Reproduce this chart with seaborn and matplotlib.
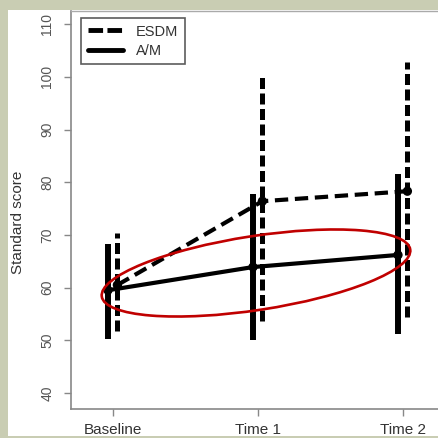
import numpy as np
import pandas as pd
import matplotlib
matplotlib.use("Agg")
import matplotlib.pyplot as plt
from matplotlib.lines import Line2D
from matplotlib.patches import Ellipse, Rectangle
import seaborn as sns

# Data
times = ["Baseline", "Time 1", "Time 2"]
groups = ["ESDM", "A/M"]
esdm_mean = [60.5, 76.4, 78.3]
esdm_lo = [51.8, 53.6, 54.4]
esdm_hi = [70.3, 100.0, 102.8]
am_mean = [59.5, 63.9, 66.2]
am_lo = [50.2, 50.0, 51.2]
am_hi = [68.2, 77.8, 81.5]

rows = []
for i, t in enumerate(times):
    rows.append(dict(group="ESDM", time=t, idx=i, mean=esdm_mean[i], lo=esdm_lo[i], hi=esdm_hi[i]))
    rows.append(dict(group="A/M", time=t, idx=i, mean=am_mean[i], lo=am_lo[i], hi=am_hi[i]))
df = pd.DataFrame(rows)

# Styling
sns.set_theme(style="white")
plt.rcParams['font.family'] = ['Liberation Sans', 'DejaVu Sans']

W, H = 439, 438
fig = plt.figure(figsize=(W / 100, H / 100), dpi=100)
fig.patch.set_facecolor("#c9cdb3")
fig.patches.append(Rectangle((8 / W, 2 / H), 431 / W, 426 / H, transform=fig.transFigure,
                             facecolor="white", edgecolor="none", zorder=-5))

ax = fig.add_axes([71 / W, (H - 409) / H, (W - 71) / W, (409 - 11) / H])
ax.set_zorder(1)
ax.set_facecolor("white")

dodge = {"ESDM": 0.03, "A/M": -0.035}
df["x"] = df["idx"] + df["group"].map(dodge)
dash_map = {"ESDM": (3.2, 1.6), "A/M": ""}

sns.lineplot(data=df, x="x", y="mean", style="group", dashes=dash_map,
             color="black", linewidth=3, legend=False, ax=ax, sort=True)
sns.scatterplot(data=df, x="x", y="mean", color="black", s=45, ax=ax,
                legend=False, zorder=5, edgecolor="none")

for g, sub in df.groupby("group"):
    ls = (0, (2.2, 0.9)) if g == "ESDM" else "-"
    lw = 3.6 if g == "ESDM" else 4.3
    ax.vlines(sub["x"], sub["lo"], sub["hi"], colors="black", linestyles=ls, linewidth=lw, zorder=4)

ax.set_xlim(-0.29, 2.248)
ax.set_ylim(36.96, 112.5)
ax.set_xticks(range(len(times)))
ax.set_xticklabels(times)
ax.set_yticks(np.arange(40, 111, 10))
ax.set_xlabel("")
ax.set_ylabel("Standard score", fontsize=11, color="#333333")
ax.yaxis.set_label_coords(-0.125, 0.47)

for lab in ax.get_yticklabels():
    lab.set_rotation(90)
    lab.set_va("center")
ax.tick_params(axis="y", labelsize=10, labelcolor="#555555", length=5, width=1,
               color="#888888", pad=7, left=True)
ax.tick_params(axis="x", labelsize=11, labelcolor="#333333", length=5, width=1,
               color="#888888", pad=5, bottom=True)

for side in ["left", "bottom"]:
    ax.spines[side].set_color("#888888")
    ax.spines[side].set_linewidth(1.2)
ax.spines["right"].set_visible(False)
ax.spines["top"].set_color("#aaaaaa")
ax.spines["top"].set_linewidth(1)

# Legend
handles = [Line2D([], [], color="black", linewidth=3.5, linestyle=(0, (3.0, 0.9))),
           Line2D([], [], color="black", linewidth=3.5)]
leg = ax.legend(handles, groups, loc="upper left", bbox_to_anchor=(81 / W, 1 - 18 / H),
                bbox_transform=fig.transFigure, borderaxespad=0, fontsize=10.5,
                frameon=True, fancybox=False, handlelength=2.4, handletextpad=0.9,
                labelspacing=0.35, borderpad=0.45)
leg.get_frame().set_edgecolor("#333333")
leg.get_frame().set_linewidth(1.2)
for t in leg.get_texts():
    t.set_color("#333333")

# Red highlight ellipse
ell = Ellipse((2.56, (H - 273) / 100), 3.12, 0.74, angle=8.7, transform=fig.dpi_scale_trans,
              facecolor="none", edgecolor="#c00000", linewidth=1.9, zorder=10)
ax.add_artist(ell)

fig.savefig("out.png", dpi=100, facecolor=fig.get_facecolor())
